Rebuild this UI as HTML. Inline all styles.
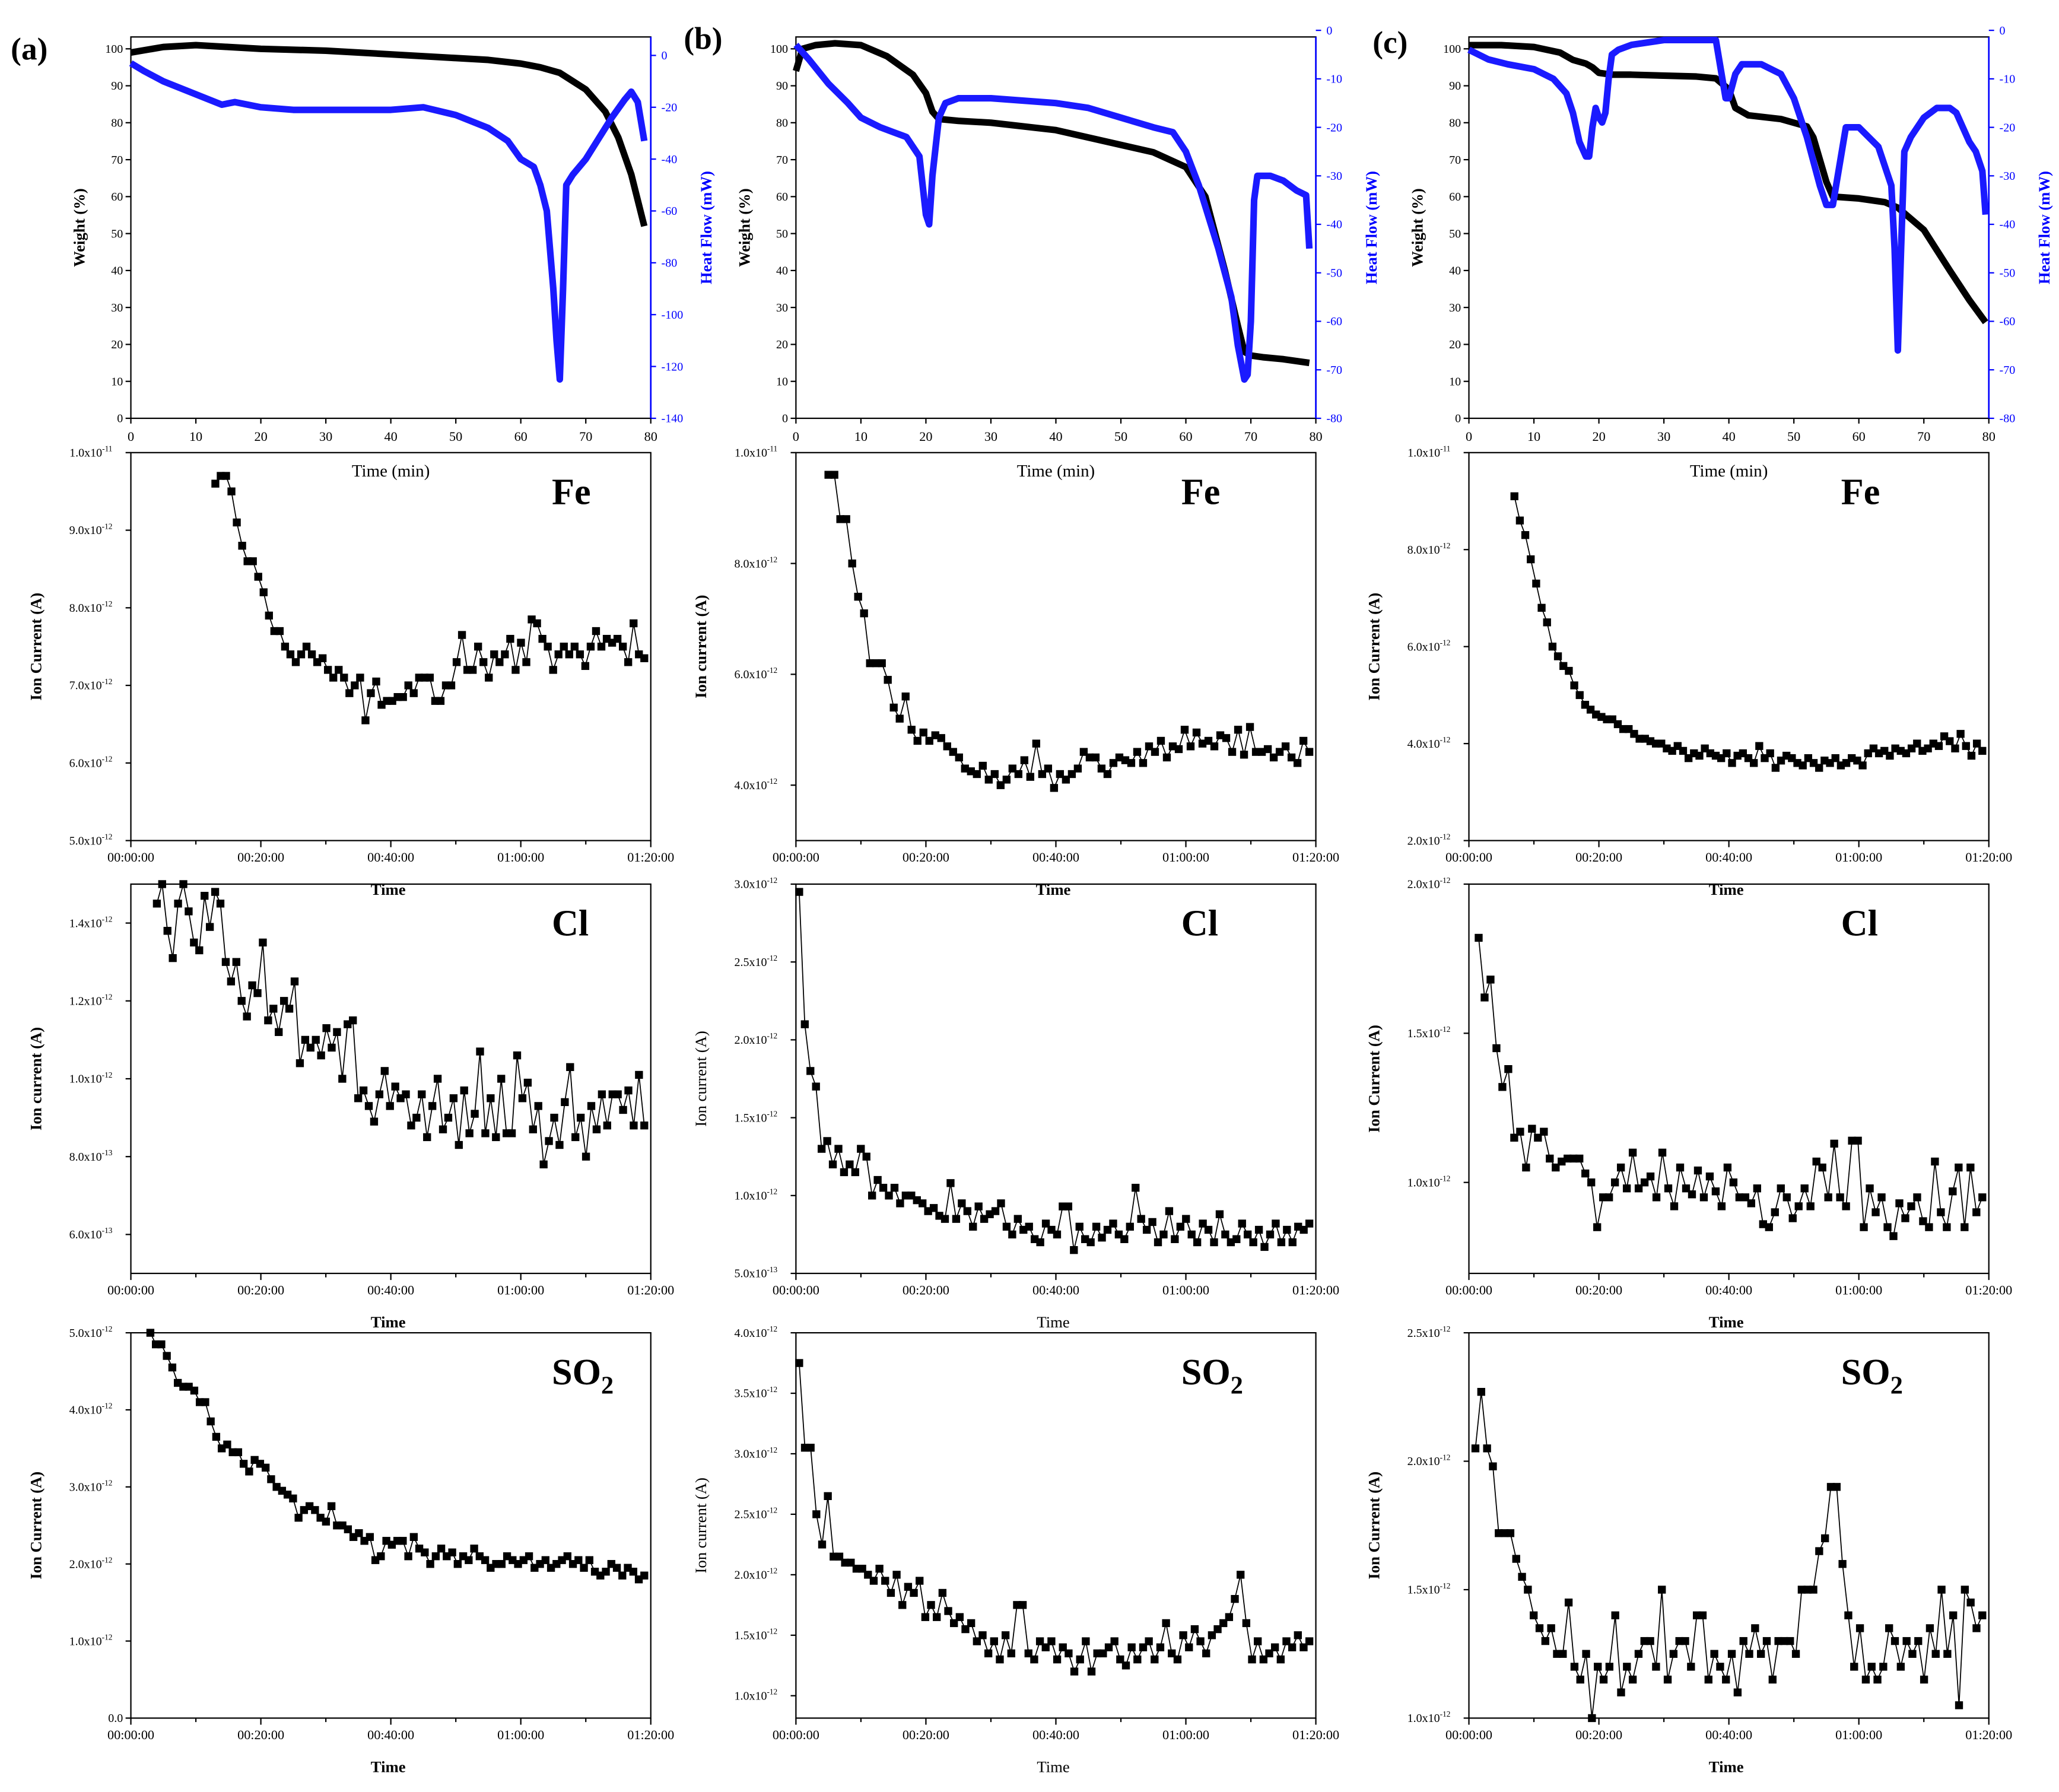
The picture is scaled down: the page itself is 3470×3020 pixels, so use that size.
<!DOCTYPE html>
<html><head><meta charset="utf-8">
<style>
html,body{margin:0;padding:0;background:#fff;}
svg{display:block;font-family:"Liberation Serif",serif;}
</style></head>
<body>
<svg id="fig" xmlns="http://www.w3.org/2000/svg" width="3470" height="3020" viewBox="0 0 1560 1358">
<rect width="1560" height="1358" fill="#fff"/>
<text x="8" y="45" font-size="24" font-weight="bold">(a)</text>
<text x="518" y="37" font-size="24" font-weight="bold">(b)</text>
<text x="1040" y="40" font-size="24" font-weight="bold">(c)</text>
</svg>
<script>
// ---------- TGA data ----------
const tgaA_wt_t=[0,5,10,15,20,30,40,50,55,60,63,66,70,73,75,77,79];
const tgaA_wt=[99,100.5,101,100.5,100,99.5,98.5,97.5,97,96,95,93.5,89,83,76,66,52];
const tgaA_hf_t=[0,2,5,10,14,16,20,25,30,40,45,50,55,58,60,62,63,64,65,65.5,66,66.5,67,68,70,72,74,76,77,78,79];
const tgaA_hf=[-3,-6,-10,-15,-19,-18,-20,-21,-21,-21,-20,-23,-28,-33,-40,-43,-50,-60,-90,-110,-125,-90,-50,-46,-40,-32,-24,-17,-14,-18,-33];
const tgaB_wt_t=[0,1,3,6,10,14,18,20,21,22,25,30,40,50,55,60,63,66,68,69,70,72,75,79];
const tgaB_wt=[94,100,101,101.5,101,98,93,88,83,81,80.5,80,78,74,72,68,60,40,25,18,17,16.5,16,15];
const tgaB_hf_t=[0,2,5,8,10,13,15,17,19,20,20.5,21,22,23,25,30,40,45,50,55,58,60,62,65,67,68,69,69.5,70,70.5,71,73,75,77,78.5,79];
const tgaB_hf=[-3,-6,-11,-15,-18,-20,-21,-22,-26,-38,-40,-30,-18,-15,-14,-14,-15,-16,-18,-20,-21,-25,-32,-45,-55,-65,-72,-71,-60,-35,-30,-30,-31,-33,-34,-45];
const tgaC_wt_t=[0,2,5,10,14,16,18,19,20,22,25,35,38,40,41,43,48,52,53,54,55,56,60,64,66,70,74,77,79.5];
const tgaC_wt=[101,101,101,100.5,99,97,96,95,93.5,93,93,92.5,92,89,84,82,81,79,76,70,64,60,59.5,58.5,57,51,40,32,26];
const tgaC_hf_t=[0,3,6,10,13,15,16,17,18,18.5,19,19.5,20,20.5,21,21.5,22,23,25,30,38,39,39.5,40,41,42,45,48,50,52,54,55,56,57,58,60,63,64,65,65.5,66,66.5,67,68,70,72,74,75,76,77,78,79,79.5];
const tgaC_hf=[-4,-6,-7,-8,-10,-13,-17,-23,-26,-26,-20,-16,-18,-19,-17,-10,-5,-4,-3,-2,-2,-10,-14,-14,-9,-7,-7,-9,-14,-22,-32,-36,-36,-28,-20,-20,-24,-28,-32,-45,-66,-45,-25,-22,-18,-16,-16,-17,-20,-23,-25,-29,-38];
// ---------- Ion current data (units of 1e-12 A) ----------
const aFe=[9.6,9.7,9.7,9.5,9.1,8.8,8.6,8.6,8.4,8.2,7.9,7.7,7.7,7.5,7.4,7.3,7.4,7.5,7.4,7.3,7.35,7.2,7.1,7.2,7.1,6.9,7.0,7.1,6.55,6.9,7.05,6.75,6.8,6.8,6.85,6.85,7.0,6.9,7.1,7.1,7.1,6.8,6.8,7.0,7.0,7.3,7.65,7.2,7.2,7.5,7.3,7.1,7.4,7.3,7.4,7.6,7.2,7.55,7.3,7.85,7.8,7.6,7.5,7.2,7.4,7.5,7.4,7.5,7.4,7.25,7.5,7.7,7.5,7.6,7.55,7.6,7.5,7.3,7.8,7.4,7.35];
const aCl=[1.45,1.5,1.38,1.31,1.45,1.5,1.43,1.35,1.33,1.47,1.39,1.48,1.45,1.3,1.25,1.3,1.2,1.16,1.24,1.22,1.35,1.15,1.18,1.12,1.2,1.18,1.25,1.04,1.1,1.08,1.1,1.06,1.13,1.08,1.12,1.0,1.14,1.15,0.95,0.97,0.93,0.89,0.96,1.02,0.93,0.98,0.95,0.96,0.88,0.9,0.96,0.85,0.93,1.0,0.87,0.9,0.95,0.83,0.97,0.86,0.91,1.07,0.86,0.95,0.85,1.0,0.86,0.86,1.06,0.95,0.99,0.87,0.93,0.78,0.84,0.9,0.83,0.94,1.03,0.85,0.9,0.8,0.93,0.87,0.96,0.88,0.96,0.96,0.92,0.97,0.88,1.01,0.88];
const aSO2=[5.0,4.85,4.85,4.7,4.55,4.35,4.3,4.3,4.25,4.1,4.1,3.85,3.65,3.5,3.55,3.45,3.45,3.3,3.2,3.35,3.3,3.25,3.1,3.0,2.95,2.9,2.85,2.6,2.7,2.75,2.7,2.6,2.55,2.75,2.5,2.5,2.45,2.35,2.4,2.3,2.35,2.05,2.1,2.3,2.25,2.3,2.3,2.1,2.35,2.2,2.15,2.0,2.1,2.2,2.1,2.15,2.0,2.1,2.05,2.2,2.1,2.05,1.95,2.0,2.0,2.1,2.05,2.0,2.05,2.1,1.95,2.0,2.05,1.95,2.0,2.05,2.1,2.0,2.05,1.95,2.05,1.9,1.85,1.9,2.0,1.95,1.85,1.95,1.9,1.8,1.85];
const bFe=[9.6,9.6,8.8,8.8,8.0,7.4,7.1,6.2,6.2,6.2,5.9,5.4,5.2,5.6,5.0,4.8,4.95,4.8,4.9,4.85,4.7,4.6,4.5,4.3,4.25,4.2,4.35,4.1,4.2,4.0,4.1,4.3,4.2,4.45,4.15,4.75,4.2,4.3,3.95,4.2,4.1,4.2,4.3,4.6,4.5,4.5,4.3,4.2,4.4,4.5,4.45,4.4,4.6,4.4,4.7,4.6,4.8,4.5,4.7,4.65,5.0,4.7,4.95,4.75,4.8,4.7,4.9,4.85,4.6,5.0,4.55,5.05,4.6,4.6,4.65,4.5,4.6,4.7,4.5,4.4,4.8,4.6];
const bCl=[2.95,2.1,1.8,1.7,1.3,1.35,1.2,1.3,1.15,1.2,1.15,1.3,1.25,1.0,1.1,1.05,1.0,1.05,0.95,1.0,1.0,0.97,0.95,0.9,0.92,0.87,0.85,1.08,0.85,0.95,0.9,0.8,0.93,0.85,0.88,0.9,0.95,0.8,0.75,0.85,0.78,0.8,0.72,0.7,0.82,0.78,0.75,0.93,0.93,0.65,0.8,0.72,0.7,0.8,0.73,0.78,0.82,0.75,0.72,0.8,1.05,0.85,0.78,0.83,0.7,0.75,0.9,0.72,0.8,0.85,0.75,0.7,0.82,0.78,0.7,0.88,0.75,0.7,0.72,0.82,0.75,0.7,0.78,0.67,0.75,0.82,0.7,0.78,0.7,0.8,0.78,0.82];
const bSO2=[3.75,3.05,3.05,2.5,2.25,2.65,2.15,2.15,2.1,2.1,2.05,2.05,2.0,1.95,2.05,1.95,1.85,2.0,1.75,1.9,1.85,1.95,1.65,1.75,1.65,1.85,1.7,1.6,1.65,1.55,1.6,1.45,1.5,1.35,1.45,1.3,1.5,1.35,1.75,1.75,1.35,1.3,1.45,1.4,1.45,1.3,1.4,1.35,1.2,1.3,1.45,1.2,1.35,1.35,1.4,1.45,1.3,1.25,1.4,1.3,1.4,1.45,1.3,1.4,1.6,1.35,1.3,1.5,1.4,1.55,1.45,1.35,1.5,1.55,1.6,1.65,1.8,2.0,1.6,1.3,1.45,1.3,1.35,1.4,1.3,1.45,1.4,1.5,1.4,1.45];
const cFe=[9.1,8.6,8.3,7.8,7.3,6.8,6.5,6.0,5.8,5.6,5.5,5.2,5.0,4.8,4.7,4.6,4.55,4.5,4.5,4.4,4.3,4.3,4.2,4.1,4.1,4.05,4.0,4.0,3.9,3.85,3.95,3.85,3.7,3.8,3.75,3.9,3.8,3.75,3.7,3.8,3.6,3.75,3.8,3.7,3.6,3.95,3.7,3.8,3.5,3.65,3.75,3.7,3.6,3.55,3.7,3.6,3.5,3.65,3.6,3.7,3.55,3.6,3.7,3.65,3.55,3.8,3.9,3.8,3.85,3.75,3.9,3.85,3.8,3.9,4.0,3.85,3.9,4.0,3.95,4.15,4.05,3.9,4.2,3.95,3.75,4.0,3.85];
const cCl=[1.82,1.62,1.68,1.45,1.32,1.38,1.15,1.17,1.05,1.18,1.15,1.17,1.08,1.05,1.07,1.08,1.08,1.08,1.03,1.0,0.85,0.95,0.95,1.0,1.05,0.98,1.1,0.98,1.0,1.02,0.95,1.1,0.98,0.92,1.05,0.98,0.96,1.04,0.95,1.02,0.97,0.92,1.05,1.0,0.95,0.95,0.93,0.98,0.86,0.85,0.9,0.98,0.95,0.88,0.92,0.98,0.92,1.07,1.05,0.95,1.13,0.95,0.92,1.14,1.14,0.85,0.98,0.9,0.95,0.85,0.82,0.93,0.88,0.92,0.95,0.87,0.85,1.07,0.9,0.85,0.97,1.05,0.85,1.05,0.9,0.95];
const cSO2=[2.05,2.27,2.05,1.98,1.72,1.72,1.72,1.62,1.55,1.5,1.4,1.35,1.3,1.35,1.25,1.25,1.45,1.2,1.15,1.25,1.0,1.2,1.15,1.2,1.4,1.1,1.2,1.15,1.25,1.3,1.3,1.2,1.5,1.15,1.25,1.3,1.3,1.2,1.4,1.4,1.15,1.25,1.2,1.15,1.25,1.1,1.3,1.25,1.35,1.25,1.3,1.15,1.3,1.3,1.3,1.25,1.5,1.5,1.5,1.65,1.7,1.9,1.9,1.6,1.4,1.2,1.35,1.15,1.2,1.15,1.2,1.35,1.3,1.2,1.3,1.25,1.3,1.15,1.35,1.25,1.5,1.25,1.4,1.05,1.5,1.45,1.35,1.4];
// start/end times (min)
const aFeSpan=[13,79], aClSpan=[4,79], aSO2Span=[3,79];
const bFeSpan=[5,79], bClSpan=[0.5,79], bSO2Span=[0.5,79];
const cFeSpan=[7,79], cClSpan=[1.5,79], cSO2Span=[1,79];
// tick values (1e-12 units) and labels
const timeTickLabels=["00:00:00","00:20:00","00:40:00","01:00:00","01:20:00"];
const aFeTicks=[5,6,7,8,9,10], bFeTicks=[4,6,8,10], cFeTicks=[2,4,6,8,10];
const aClTicks=[0.6,0.8,1.0,1.2,1.4], bClTicks=[0.5,1.0,1.5,2.0,2.5,3.0], cClTicks=[1.0,1.5,2.0];
const aSO2Ticks=[0,1,2,3,4,5], bSO2Ticks=[1.0,1.5,2.0,2.5,3.0,3.5,4.0], cSO2Ticks=[1.0,1.5,2.0,2.5];

const NS="http://www.w3.org/2000/svg";
const svg=document.getElementById('fig');
function mk(tag,attrs,parent){const e=document.createElementNS(NS,tag);for(const k in attrs)e.setAttribute(k,attrs[k]);(parent||svg).appendChild(e);return e;}

function sciLabel(v){
  if(v===0) return ["0.0",null];
  let e=Math.floor(Math.log10(v*1e-12)+1e-9); let m=v*1e-12/Math.pow(10,e);
  return [m.toFixed(1)+"x10",String(e)];
}
const cols=[99,603,1113]; const W=394;
const labOff=[319,292,282];

function frame(g,x0,y0,y1,name){
  const r=mk('rect',{x:x0,y:y0,width:W,height:y1-y0,fill:'none',stroke:'#000','stroke-width':1},g);
  
  
}
function xTimeAxis(g,x0,y1,bold,title){
  for(let i=0;i<=8;i++){const x=x0+i*W/8;mk('line',{x1:x,x2:x,y1:y1,y2:y1+(i%2?3:5),stroke:'#000'},g);}
  timeTickLabels.forEach((l,i)=>{const t=mk('text',{x:x0+i*W/4,y:y1+16,'font-size':10,'text-anchor':'middle'},g);t.textContent=l;
    });
  const tt=mk('text',{x:x0+W/2-2,y:y1+41,'font-size':12,'font-weight':bold?'bold':'normal','text-anchor':'middle'},g);tt.textContent=title;
  
}
function ionPanel(name,col,y0,y1,vmin,vmax,ticks,data,span,elem,ytitle,xbold,xtitle,yBold){
  const g=mk('g',{});
  
  
  const x0=cols[col];
  const sx=t=>x0+t/80*W, sy=v=>y1-(v-vmin)/(vmax-vmin)*(y1-y0);
  frame(g,x0,y0,y1,name);
  ticks.forEach(v=>{const y=sy(v);mk('line',{x1:x0-4,x2:x0,y1:y,y2:y,stroke:'#000'},g);
    const [m,e]=sciLabel(v);const t=mk('text',{x:x0-6,y:y+3,'font-size':9,'text-anchor':'end'},g);
    
    if(e===null){t.textContent=m;}else{t.textContent=m;const s=mk('tspan',{'font-size':6,dy:-4},t);s.textContent=e;t.setAttribute('x',x0-6-8);}
  });
  xTimeAxis(g,x0,y1,xbold,xtitle);
  const yt=mk('text',{transform:`translate(${x0-68},${(y0+y1)/2}) rotate(-90)`,'font-size':12,'font-weight':yBold?'bold':'normal','text-anchor':'middle'},g);yt.textContent=ytitle;
  
  const lab=mk('text',{x:x0+labOff[col],y:y0+39,'font-size':28,'font-weight':'bold'},g);
  
  if(elem==='SO2'){lab.textContent='SO';const s=mk('tspan',{'font-size':19,dy:7},lab);s.textContent='2';}else lab.textContent=elem;
  const step=(span[1]-span[0])/(data.length-1);
  const pts=data.map((v,i)=>[sx(span[0]+i*step),sy(v)]);
  const cp=mk('clipPath',{id:name+'-clip'},g);mk('rect',{x:x0,y:y0,width:W,height:y1-y0},cp);
  const ln=mk('polyline',{points:pts.map(p=>p.join(',')).join(' '),fill:'none',stroke:'#000','stroke-width':0.8,'clip-path':`url(#${name}-clip)`},g);
  
  pts.forEach(p=>{if(p[1]<y0-2)return;const r=mk('rect',{x:p[0]-3,y:p[1]-3,width:6,height:6,fill:'#000'},g);
    });
}
function tgaPanel(name,col,hfTop,hfMin,hfTicks,wt_t,wt,hf_t,hf){
  const g=mk('g',{});
  
  
  const x0=cols[col],y0=28,y1=317;
  const sx=t=>x0+t/80*W, sw=v=>y1-v*2.8, sh=v=>hfTop+v/hfMin*(y1-hfTop);
  frame(g,x0,y0,y1,name);
  for(let v=0;v<=100;v+=10){const y=sw(v);mk('line',{x1:x0-4,x2:x0,y1:y,y2:y,stroke:'#000'},g);
    const t=mk('text',{x:x0-6,y:y+3,'font-size':9,'text-anchor':'end'},g);t.textContent=v;
    }
  hfTicks.forEach(v=>{const y=sh(v);mk('line',{x1:x0+W,x2:x0+W+4,y1:y,y2:y,stroke:'#00f'},g);
    const t=mk('text',{x:x0+W+8,y:y+3,'font-size':9,fill:'#00f'},g);t.textContent=v;
    });
  mk('line',{x1:x0+W,x2:x0+W,y1:y0,y2:y1,stroke:'#00f','stroke-width':1.2},g);
  for(let v=0;v<=80;v+=10){const x=sx(v);mk('line',{x1:x,x2:x,y1:y1,y2:y1+4,stroke:'#000'},g);
    const t=mk('text',{x:x,y:y1+17,'font-size':10,'text-anchor':'middle'},g);t.textContent=v;
    }
  const xt=mk('text',{x:x0+W/2,y:y1+44,'font-size':13,'text-anchor':'middle'},g);xt.textContent='Time (min)';
  
  const yt=mk('text',{transform:`translate(${x0-35},${(y0+y1)/2}) rotate(-90)`,'font-size':12,'font-weight':'bold','text-anchor':'middle'},g);yt.textContent='Weight (%)';
  
  const yt2=mk('text',{transform:`translate(${x0+W+46},${(y0+y1)/2}) rotate(-90)`,'font-size':12,'font-weight':'bold',fill:'#00f','text-anchor':'middle'},g);yt2.textContent='Heat Flow (mW)';
  
  const w=mk('polyline',{points:wt_t.map((t,i)=>sx(t)+','+sw(wt[i])).join(' '),fill:'none',stroke:'#000','stroke-width':5,'stroke-linejoin':'round'},g);
  
  const h=mk('polyline',{points:hf_t.map((t,i)=>sx(t)+','+sh(hf[i])).join(' '),fill:'none',stroke:'#1a1aff','stroke-width':5,'stroke-linejoin':'round'},g);
  
}
tgaPanel('tga-a',0,42,-140,[0,-20,-40,-60,-80,-100,-120,-140],tgaA_wt_t,tgaA_wt,tgaA_hf_t,tgaA_hf);
tgaPanel('tga-b',1,23,-80,[0,-10,-20,-30,-40,-50,-60,-70,-80],tgaB_wt_t,tgaB_wt,tgaB_hf_t,tgaB_hf);
tgaPanel('tga-c',2,23,-80,[0,-10,-20,-30,-40,-50,-60,-70,-80],tgaC_wt_t,tgaC_wt,tgaC_hf_t,tgaC_hf);

ionPanel('fe-a',0,343,637,5,10,aFeTicks,aFe,aFeSpan,'Fe','Ion Current (A)',true,'Time',true);
ionPanel('fe-b',1,343,637,3,10,bFeTicks,bFe,bFeSpan,'Fe','Ion current (A)',true,'Time',true);
ionPanel('fe-c',2,343,637,2,10,cFeTicks,cFe,cFeSpan,'Fe','Ion Current (A)',true,'Time',true);
ionPanel('cl-a',0,670,965,0.5,1.5,aClTicks,aCl,aClSpan,'Cl','Ion current (A)',true,'Time',true);
ionPanel('cl-b',1,670,965,0.5,3.0,bClTicks,bCl,bClSpan,'Cl','Ion current (A)',false,'Time',false);
ionPanel('cl-c',2,670,965,0.695,2.0,cClTicks,cCl,cClSpan,'Cl','Ion Current (A)',true,'Time',true);
ionPanel('so2-a',0,1010,1302,0,5,aSO2Ticks,aSO2,aSO2Span,'SO2','Ion Current (A)',true,'Time',true);
ionPanel('so2-b',1,1010,1302,0.815,4.0,bSO2Ticks,bSO2,bSO2Span,'SO2','Ion current (A)',false,'Time',false);
ionPanel('so2-c',2,1010,1302,1.0,2.5,cSO2Ticks,cSO2,cSO2Span,'SO2','Ion Current (A)',true,'Time',true);
</script>
</body></html>
